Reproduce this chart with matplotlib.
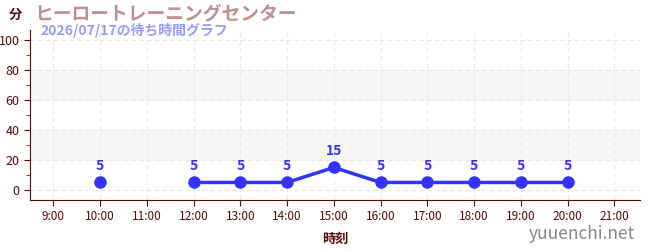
import matplotlib
matplotlib.use("Agg")
import matplotlib.pyplot as plt
from matplotlib.ticker import MultipleLocator

plt.rcParams['font.family'] = ['Noto Sans CJK JP', 'DejaVu Sans']

hours = [10, 12, 13, 14, 15, 16, 17, 18, 19, 20]
waits = [5, 5, 5, 5, 15, 5, 5, 5, 5, 5]
segments = [[0], [1, 2, 3, 4, 5, 6, 7, 8, 9]]
xticks = list(range(9, 22))
xlabels = [f"{h}:00" for h in xticks]
yticks = [0, 20, 40, 60, 80, 100]

dark = '#5a0a0a'
blue = '#3333ff'

fig = plt.figure(figsize=(6.5, 2.5), dpi=100)
ax = fig.add_axes([30/650, 50/250, 610/650, 170/250])
ax.set_xlim(8.5, 21.55)
ax.set_ylim(-6.7, 106.7)

for lo, hi in [(20, 40), (60, 80)]:
    ax.axhspan(lo, hi, color='#f7f7f7', zorder=0)

ax.grid(True, color='#e8e8e8', linestyle=(0, (4, 3)), linewidth=0.8, zorder=0.5)

for seg in segments:
    xs = [hours[i] for i in seg]
    ys = [waits[i] for i in seg]
    ax.plot(xs, ys, color=blue, linewidth=2.5, marker='o', markersize=8, zorder=3)

for h, w in zip(hours, waits):
    ax.annotate(str(w), (h, w), xytext=(0, 7), textcoords='offset points',
                ha='center', va='bottom', color=blue, fontsize=10, fontweight='bold')

ax.set_xticks(xticks)
ax.set_xticklabels(xlabels)
ax.set_yticks(yticks)
ax.yaxis.set_minor_locator(MultipleLocator(10))
ax.tick_params(axis='y', which='minor', length=3, color='#cc0000')
ax.tick_params(axis='both', which='major', length=4, colors=dark)
ax.tick_params(axis='x', which='major', labelsize=8.5)
ax.tick_params(axis='y', which='major', labelsize=9)
for lbl in ax.get_xticklabels() + ax.get_yticklabels():
    lbl.set_color(dark)

for s in ['top', 'right']:
    ax.spines[s].set_visible(False)
for s in ['left', 'bottom']:
    ax.spines[s].set_color(dark)

ax.set_xlabel('時刻', color=dark, fontsize=9.5, fontweight='bold', labelpad=6)

fig.text(9/650, 1 - 15/250, '分', color=dark, fontsize=9.5, fontweight='bold', va='center')
fig.text(34/650, 1 - 14/250, 'ヒーロートレーニングセンター', color='#c09090',
         fontsize=13.5, fontweight='bold', va='center')
fig.text(40/650, 1 - 31/250, '2026/07/17の待ち時間グラフ', color='#9999ff',
         fontsize=10, fontweight='bold', va='center')
fig.text(635/650, 1 - 234/250, 'yuuenchi.net', color='#888888',
         fontsize=12.5, ha='right', va='center')

fig.savefig('out.png', dpi=100)
